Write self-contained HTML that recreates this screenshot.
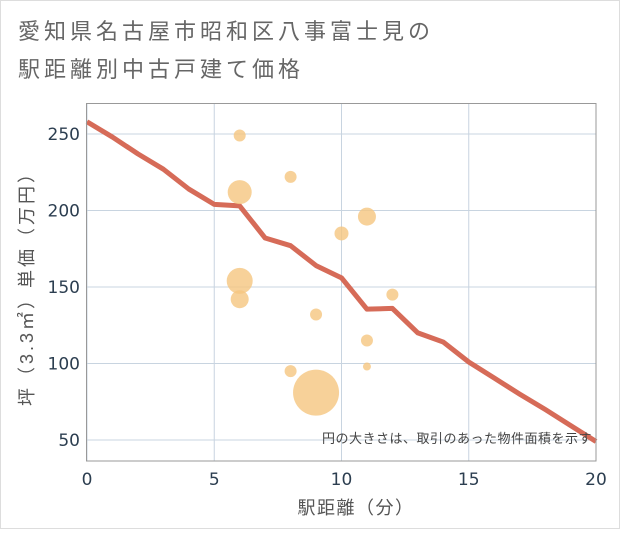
<!DOCTYPE html>
<html><head><meta charset="utf-8"><style>
body{margin:0;background:#fff;}
svg text{font-family:"Liberation Sans","Noto Sans CJK JP",sans-serif;}
svg text.num{font-family:"DejaVu Sans",sans-serif;}
</style></head><body>
<svg width="621" height="530">
<rect x="0.5" y="0.5" width="619" height="528" fill="#fff" stroke="#ddd"/>
<text x="18" y="39" font-size="22" letter-spacing="4" fill="#666">愛知県名古屋市昭和区八事富士見の</text>
<text x="18" y="77" font-size="22" letter-spacing="4" fill="#666">駅距離別中古戸建て価格</text>
<g id="grid"></g>
<g id="line"></g>
<g id="bubbles"></g>
<rect x="86.5" y="103.5" width="509.5" height="357.5" fill="none" stroke="#999"/>
<text x="592" y="443" font-size="13" letter-spacing="0.5" fill="#444" text-anchor="end">円の大きさは、取引のあった物件面積を示す</text>
<g id="ticks"></g>
<text x="356" y="514" font-size="18" letter-spacing="1.5" fill="#555" text-anchor="middle">駅距離（分）</text>
<text transform="translate(33,284) rotate(-90)" font-size="18" letter-spacing="3" fill="#555" text-anchor="middle">坪（3.3㎡）単価（万円）</text>
</svg>
<script>
const xTicks=[0,5,10,15,20];
const yTicks=[50,100,150,200,250];
const lineX=[0,1,2,3,4,5,6,7,8,9,10,11,12,13,14,15,16,17,18,19,20];
const lineY=[258,248,237,227,214,204,203,182,177,164,156,135.5,136,120,114,101,90.5,80,70,59.5,49];
const bubX=[6,6,8,11,10,6,6,12,9,11,11,8,9];
const bubY=[249,212,222,196,185,154,142,145,132,115,98,95,81];
const bubR=[6,12,6,9,7,13,9,6,6,6,4,6,23];
const X=v=>87+v*(596-87)/20, Y=v=>134+(250-v)*(440-134)/200;
const NS="http://www.w3.org/2000/svg";
function mk(t,a,p){const e=document.createElementNS(NS,t);for(const k in a)e.setAttribute(k,a[k]);p.appendChild(e);return e;}
const g=document.getElementById('grid'),tk=document.getElementById('ticks');
xTicks.forEach(v=>{const l=mk('line',{x1:X(v),x2:X(v),y1:104,y2:461,stroke:'#c8d4e0'},g);

const t=mk('text',{x:X(v),y:485,'font-size':17,fill:'#2c3e50','text-anchor':'middle',class:'num'},tk);t.textContent=v;
});
yTicks.forEach(v=>{const l=mk('line',{x1:87,x2:596,y1:Y(v),y2:Y(v),stroke:'#c8d4e0'},g);

const t=mk('text',{x:80,y:Y(v)+6,'font-size':17,fill:'#2c3e50','text-anchor':'end',class:'num'},tk);t.textContent=v;
});
const bg=document.getElementById('bubbles');
bubX.forEach((v,i)=>{const c=mk('circle',{cx:X(v),cy:Y(bubY[i]),r:bubR[i],fill:'#f5c57f','fill-opacity':0.8},bg);
});
const pl=mk('polyline',{points:lineX.map((v,i)=>X(v)+','+Y(lineY[i])).join(' '),fill:'none',stroke:'#d66b58','stroke-width':5,'stroke-linejoin':'round'},document.getElementById('line'));


</script>
</body></html>
